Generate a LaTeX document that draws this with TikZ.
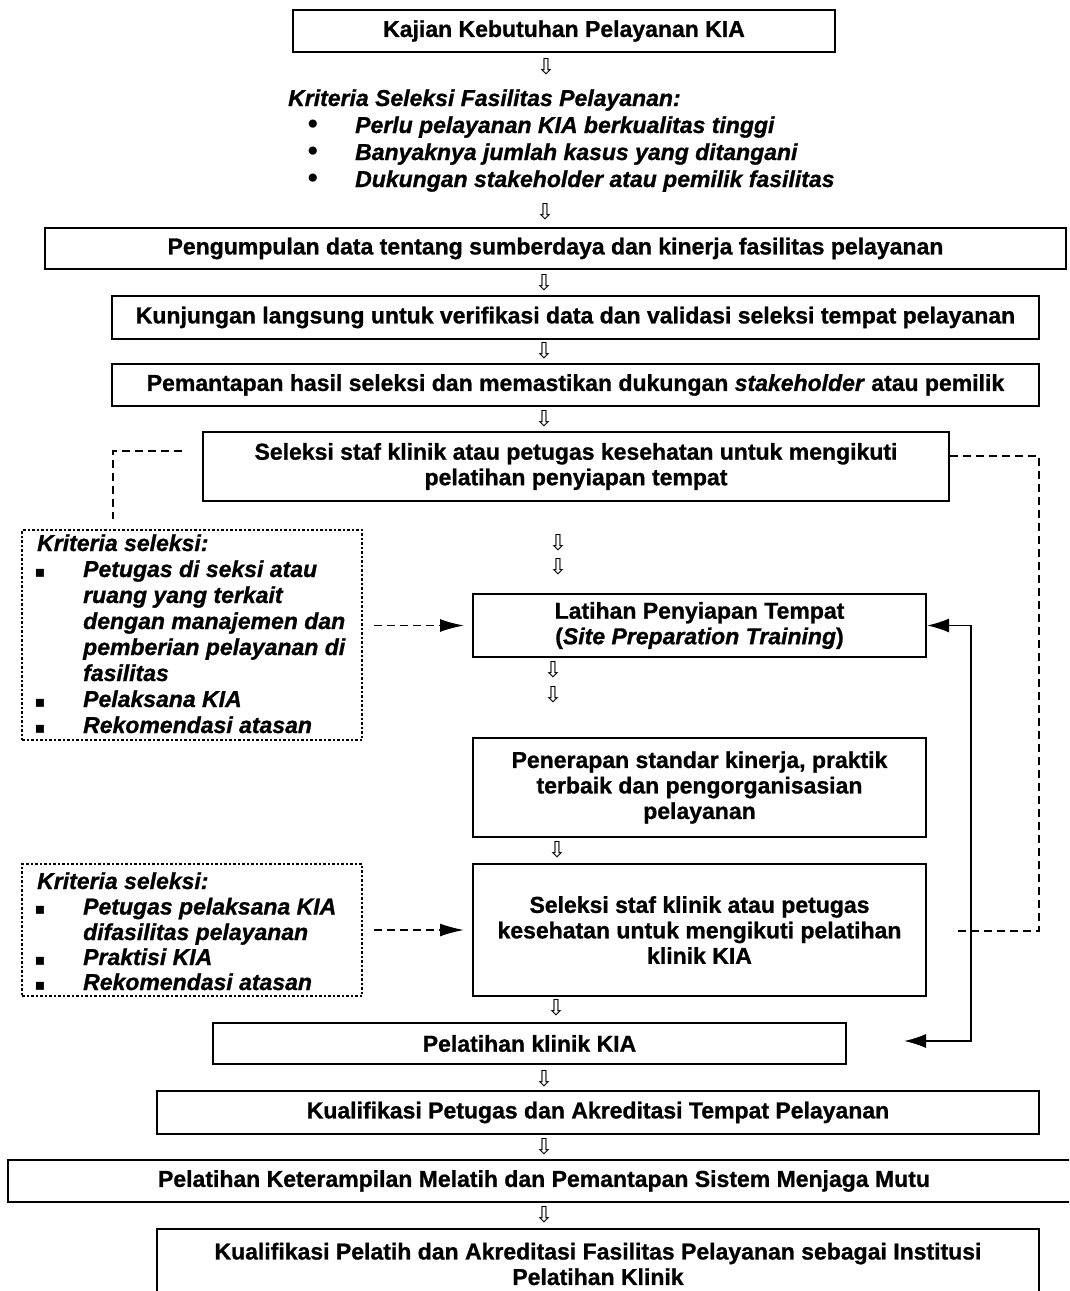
\documentclass[tikz,border=0pt]{standalone}
\usepackage{fontspec}
\setmainfont{Liberation Sans}[
  BoldFont={Liberation Sans Bold}, BoldFeatures={FakeBold=1},
  BoldItalicFont={Liberation Sans Bold Italic}, BoldItalicFeatures={FakeBold=1}]
\newfontfamily\symfont{DejaVu Sans}
\usetikzlibrary{arrows.meta}
\newcommand\bfont{\fontsize{23}{25.5}\selectfont\bfseries}
\newcommand\ifont{\fontsize{23}{25.5}\selectfont\bfseries\itshape}
\newcommand\arrfont{\symfont\fontsize{22}{22}\selectfont}
\begin{document}
\begin{tikzpicture}[x=1pt,y=-1pt,
  box/.style={draw, line width=2pt, align=center, inner sep=2pt, font=\bfont},
  dotbox/.style={draw, line width=2pt, dash pattern=on 2.5pt off 2pt},
  darr/.style={font=\arrfont, inner sep=0pt},
  crit/.style={font=\ifont, anchor=base west, inner sep=0pt},
  bul/.style={font=\symfont\fontsize{28}{28}\selectfont, anchor=base, inner sep=0pt},
  sq/.style={font=\symfont\fontsize{16}{16}\selectfont, anchor=base, inner sep=0pt},
  dashcon/.style={line width=1.6pt, dash pattern=on 8pt off 5pt},
  dasharr/.style={dashcon, -{Latex[length=24pt,width=13pt]}},
  solidarr/.style={line width=1.6pt, {Latex[length=22pt,width=14pt]}-{Latex[length=22pt,width=14pt]}}
]
\useasboundingbox (0,0) rectangle (1069,1291);
\fill[white] (0,0) rectangle (1069,1291);
\clip (0,0) rectangle (1069,1291);

% main boxes
\node[box, minimum width=542pt, minimum height=42pt] (b1) at (564,31) {Kajian Kebutuhan Pelayanan KIA};
\node[box, minimum width=1021pt, minimum height=41pt] (b3) at (555.5,248.5) {Pengumpulan data tentang sumberdaya dan kinerja fasilitas pelayanan};
\node[box, minimum width=927pt, minimum height=43pt] (b4) at (575.5,317.5) {Kunjungan langsung untuk verifikasi data dan validasi seleksi tempat pelayanan};
\node[box, minimum width=927pt, minimum height=42pt] (b5) at (575.5,385) {Pemantapan hasil seleksi dan memastikan dukungan \textit{stakeholder} atau pemilik};
\node[box, minimum width=746pt, minimum height=69pt] (b6) at (576,466.5) {Seleksi staf klinik atau petugas kesehatan untuk mengikuti\\pelatihan penyiapan tempat};
\node[box, minimum width=453pt, minimum height=63pt] (lat) at (699.5,625.5) {Latihan Penyiapan Tempat\\(\textit{Site Preparation Training})};
\node[box, minimum width=453pt, minimum height=99pt] (pen) at (699.5,787.5) {Penerapan standar kinerja, praktik\\terbaik dan pengorganisasian\\pelayanan};
\node[box, minimum width=453pt, minimum height=132pt] (sel2) at (699.5,930) {Seleksi staf klinik atau petugas\\kesehatan untuk mengikuti pelatihan\\klinik KIA};
\node[box, minimum width=633pt, minimum height=41pt] (pk) at (529.5,1043.5) {Pelatihan klinik KIA};
\node[box, minimum width=882pt, minimum height=43pt] (kp) at (598,1112.5) {Kualifikasi Petugas dan Akreditasi Tempat Pelayanan};
\node[box, minimum width=1072pt, minimum height=42pt] (pkm) at (544,1181) {Pelatihan Keterampilan Melatih dan Pemantapan Sistem Menjaga Mutu};
\node[box, minimum width=882pt, minimum height=70pt] (kpl) at (598,1264) {Kualifikasi Pelatih dan Akreditasi Fasilitas Pelayanan sebagai Institusi\\Pelatihan Klinik};

% top criteria
\node[crit] (kt) at (288,106) {Kriteria Seleksi Fasilitas Pelayanan:};
\node[bul] (kb1) at (313,134) {•};
\node[crit] (k1) at (355,133) {Perlu pelayanan KIA berkualitas tinggi};
\node[bul] (kb2) at (313,161) {•};
\node[crit] (k2) at (355,160) {Banyaknya jumlah kasus yang ditangani};
\node[bul] (kb3) at (313,188) {•};
\node[crit] (k3) at (355,187) {Dukungan stakeholder atau pemilik fasilitas};

% dotted box 1
\node[dotbox, minimum width=340pt, minimum height=210pt] (dot1) at (192,635) {};
\node[crit] (d1t) at (37,551) {Kriteria seleksi:};
\node[sq] (d1s1) at (40,577) {▪};
\node[crit] (d1a) at (83,577) {Petugas di seksi atau};
\node[crit] (d1b) at (83,603) {ruang yang terkait};
\node[crit] (d1c) at (83,629) {dengan manajemen dan};
\node[crit] (d1d) at (83,655) {pemberian pelayanan di};
\node[crit] (d1e) at (83,681) {fasilitas};
\node[sq] (d1s2) at (40,707) {▪};
\node[crit] (d1f) at (83,707) {Pelaksana KIA};
\node[sq] (d1s3) at (40,733) {▪};
\node[crit] (d1g) at (83,733) {Rekomendasi atasan};

% dotted box 2
\node[dotbox, minimum width=340pt, minimum height=132pt] (dot2) at (192,930) {};
\node[crit] (d2t) at (37,889) {Kriteria seleksi:};
\node[sq] (d2s1) at (40,914.5) {▪};
\node[crit] (d2a) at (83,914.5) {Petugas pelaksana KIA};
\node[crit] (d2b) at (83,940) {difasilitas pelayanan};
\node[sq] (d2s2) at (40,965) {▪};
\node[crit] (d2c) at (83,965) {Praktisi KIA};
\node[sq] (d2s3) at (40,990) {▪};
\node[crit] (d2d) at (83,990) {Rekomendasi atasan};

% down arrows
\node[darr] (a1) at (546,67) {⇩};
\node[darr] (a2) at (545,212) {⇩};
\node[darr] (a3) at (544,283) {⇩};
\node[darr] (a4) at (544,351) {⇩};
\node[darr] (a5) at (544,419) {⇩};
\node[darr] (a6) at (558,543) {⇩};
\node[darr] (a7) at (558,567) {⇩};
\node[darr] (a8) at (553,670) {⇩};
\node[darr] (a9) at (553,695) {⇩};
\node[darr] (a10) at (557,850) {⇩};
\node[darr] (a11) at (556,1008) {⇩};
\node[darr] (a12) at (544,1079) {⇩};
\node[darr] (a13) at (544,1147) {⇩};
\node[darr] (a14) at (544,1215) {⇩};

% connectors
\coordinate (lt) at (182,451);
\coordinate (lb) at (113,519);
\draw[dashcon] (lt) -| (lb);
\draw[dasharr, shorten <=11pt, shorten >=8pt] (dot1.east |- lat.west) -- (lat.west);
\draw[dasharr, shorten <=11pt, shorten >=8pt] (dot2.east |- sel2.west) -- (sel2.west);
\coordinate (rd) at (953,931);
\draw[dashcon] ([yshift=10.5pt]b6.east) -- (1039,456) |- (rd);
\coordinate (bt) at (904,1041);
\draw[solidarr] (bt) -- (971,1041) |- (lat.east);
\end{tikzpicture}
\end{document}
